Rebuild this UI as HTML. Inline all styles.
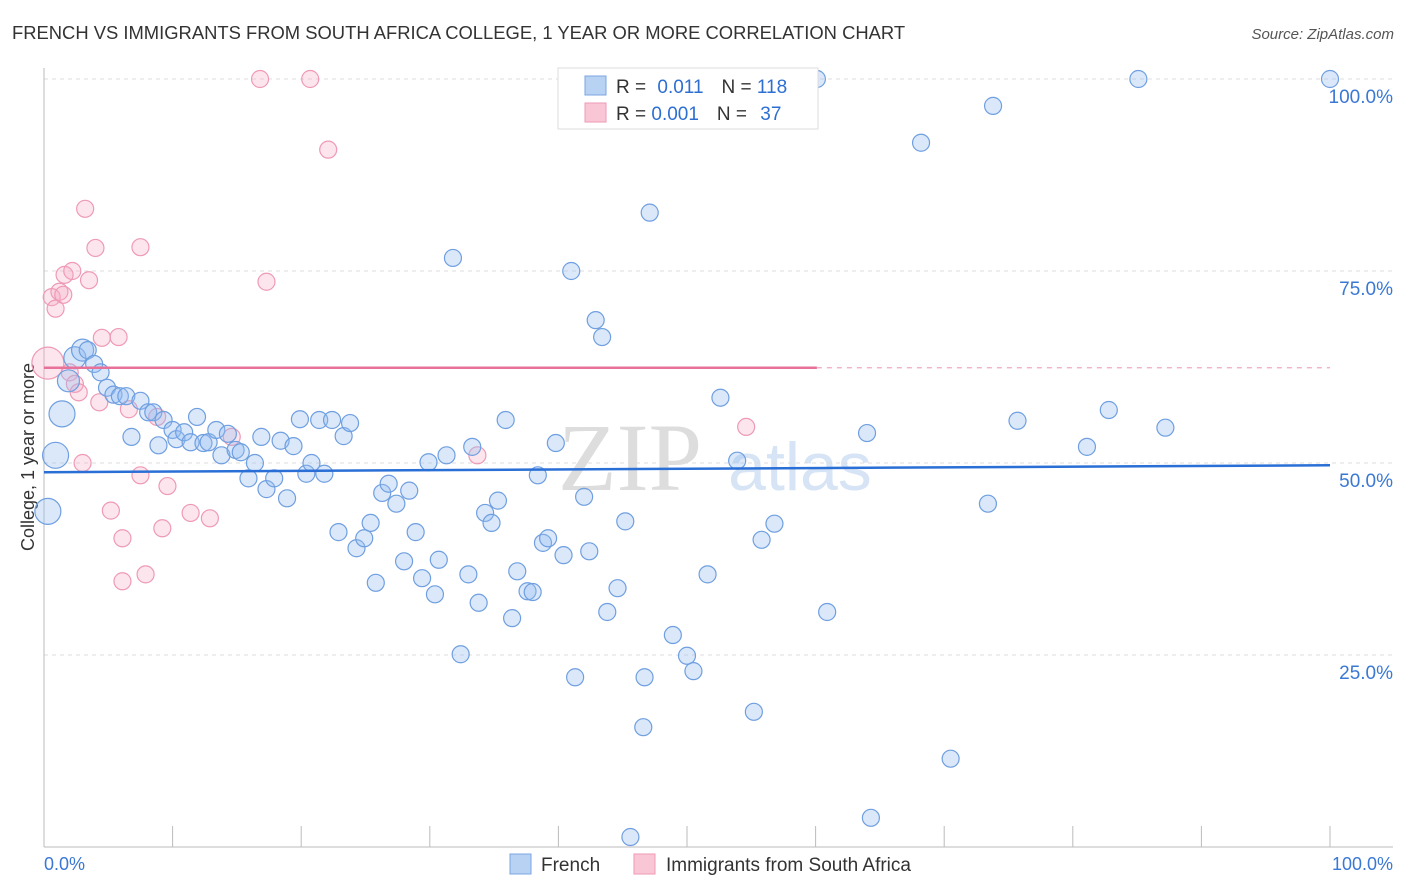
<!DOCTYPE html>
<html><head><meta charset="utf-8"><style>
body{margin:0;background:#fff;font-family:"Liberation Sans",sans-serif;}
#wrap{position:relative;width:1406px;height:892px;overflow:hidden}
</style></head><body>
<div id="wrap">
<svg id="svg" width="1406" height="892" xmlns="http://www.w3.org/2000/svg">
<text x="12" y="39" font-size="18.4" fill="#333">FRENCH VS IMMIGRANTS FROM SOUTH AFRICA COLLEGE, 1 YEAR OR MORE CORRELATION CHART</text>
<text x="1394" y="39" font-size="15" fill="#555" text-anchor="end" font-style="italic">Source: ZipAtlas.com</text>
<text x="630" y="490" font-size="96" fill="#ddd" text-anchor="middle" font-family="Liberation Serif">ZIP</text>
<text x="800" y="490" font-size="68" fill="#d6e4f5" text-anchor="middle">atlas</text>
<g id="grid"></g>
<line x1="44" y1="68" x2="44" y2="847" stroke="#bbb"/>
<line x1="44" y1="847" x2="1393" y2="847" stroke="#bbb"/>
<text transform="translate(34,457) rotate(-90)" font-size="18" fill="#333" text-anchor="middle">College, 1 year or more</text>
<text x="44" y="870" font-size="18" fill="#3a78d4">0.0%</text>
<text x="1393" y="870" font-size="18" fill="#3a78d4" text-anchor="end">100.0%</text>
<g id="pts"></g>
<g id="lines"></g>
<g>
<rect x="558" y="68" width="260" height="61" fill="#fff" stroke="#ddd"/>
<rect x="585" y="76" width="21" height="19" fill="#b8d2f3" stroke="#7aa6e0"/>
<rect x="585" y="103" width="21" height="19" fill="#f9c6d5" stroke="#ee9ab4"/>
<text x="616" y="93" font-size="19" fill="#333">R = <tspan fill="#2d6fd1" dx="6">0.011</tspan><tspan fill="#333" dx="18">N = </tspan><tspan fill="#2d6fd1">118</tspan></text>
<text x="616" y="120" font-size="19" fill="#333">R = <tspan fill="#2d6fd1">0.001</tspan><tspan fill="#333" dx="18">N = </tspan><tspan fill="#2d6fd1" dx="8">37</tspan></text>
</g>
<g>
<rect x="510" y="854" width="21" height="20" fill="#b8d2f3" stroke="#7aa6e0"/>
<text x="541" y="871" font-size="19" fill="#333">French</text>
<rect x="634" y="854" width="21" height="20" fill="#f9c6d5" stroke="#ee9ab4"/>
<text x="666" y="871" font-size="19" fill="#333">Immigrants from South Africa</text>
</g>
</svg>
</div>
<script>
const yTicks=[25,50,75,100];
const xTickVals=[0,10,20,30,40,50,60,70,80,90,100];
const frenchX=[0.3,0.9,1.4,1.9,2.4,3.0,3.4,3.9,4.4,4.9,5.4,5.9,6.4,6.8,7.5,8.1,8.5,8.9,9.3,10.0,10.3,10.9,11.4,11.9,12.4,12.8,13.4,13.8,14.3,14.9,15.3,15.9,16.4,16.9,17.3,17.9,18.4,18.9,19.4,19.9,20.4,20.8,21.4,21.8,22.4,22.9,23.3,23.8,24.3,24.9,25.4,25.8,26.3,26.8,27.4,28.0,28.4,28.9,29.4,29.9,30.4,30.7,31.3,31.8,32.4,33.0,33.3,33.8,34.3,34.8,35.3,35.9,36.4,36.8,37.6,38.0,38.4,38.8,39.2,39.8,40.4,41.0,41.3,42.0,42.4,42.9,43.4,43.8,44.6,45.2,45.6,46.6,46.7,47.1,48.9,50.0,50.5,51.6,52.6,53.9,55.2,55.8,56.8,60.1,60.9,64.0,64.3,68.2,70.5,73.4,73.8,75.7,81.1,82.8,85.1,87.2,100];
const frenchY=[43.7,51.0,56.4,60.7,63.7,64.7,64.7,62.9,61.8,59.8,58.9,58.7,58.7,53.4,58.1,56.6,56.6,52.3,55.6,54.3,53.1,54.0,52.7,56.0,52.6,52.7,54.3,51.0,53.8,51.7,51.4,48.0,50.0,53.4,46.6,48.0,52.9,45.4,52.2,55.7,48.6,50.0,55.6,48.6,55.6,41.0,53.5,55.2,38.9,40.2,42.2,34.4,46.1,47.3,44.7,37.2,46.4,41.0,35.0,50.1,32.9,37.4,51.0,76.7,25.1,35.5,52.1,31.8,43.5,42.2,45.1,55.6,29.8,35.9,33.3,33.2,48.4,39.6,40.2,52.6,38.0,75.0,22.1,45.6,38.5,68.6,66.4,30.6,33.7,42.4,1.3,15.6,22.1,82.6,27.6,24.9,22.9,35.5,58.5,50.3,17.6,40.0,42.1,100,30.6,53.9,3.8,91.7,11.5,44.7,96.5,55.5,52.1,56.9,100,54.6,100];
const frenchBig=[0,1,2,3,4,5];
const saX=[0.3,0.6,0.9,1.2,1.5,1.6,2.0,2.2,2.4,2.7,3.0,3.2,3.5,4.0,4.3,4.5,5.2,5.8,6.1,6.1,6.6,7.5,7.5,7.9,8.8,9.2,9.6,11.4,12.9,14.6,16.8,17.3,20.7,22.1,33.7,54.6];
const saY=[63.0,71.6,70.1,72.3,71.9,74.5,61.8,75.0,60.3,59.2,50.0,83.1,73.8,78.0,57.9,66.3,43.8,66.4,40.2,34.6,57.0,48.4,78.1,35.5,56.0,41.5,47.0,43.5,42.8,53.4,100,73.6,100,90.8,51.0,54.7];
const frenchTrend=[48.8,49.7];
const saTrend=[62.4,62.4];
const X=v=>44+v*12.86, Y=v=>847-v*7.68;
const NS='http://www.w3.org/2000/svg';
function mk(t,a,p){const e=document.createElementNS(NS,t);for(const k in a)e.setAttribute(k,a[k]);p.appendChild(e);return e;}
const grid=document.getElementById('grid');
yTicks.forEach(v=>{
 const l=mk('line',{x1:44,x2:1393,y1:Y(v),y2:Y(v),stroke:'#ddd','stroke-dasharray':'4,4'},grid);
 
 
 const t=mk('text',{x:1393,y:Y(v)+24,'font-size':19,fill:'#3a78d4','text-anchor':'end'},grid);
 t.textContent=v.toFixed(1)+'%';
 
 
});
xTickVals.forEach(v=>{
 const l=mk('line',{x1:X(v),x2:X(v),y1:826,y2:847,stroke:'#bbb'},grid);
 
 
});
const pts=document.getElementById('pts');
saX.forEach((x,i)=>{
 const c=mk('circle',{cx:X(x),cy:Y(saY[i]),r:i===0?16:8.5,fill:'rgba(246,170,195,0.3)',stroke:'#ef9ab5','stroke-width':1.2},pts);
 
 
});
frenchX.forEach((x,i)=>{
 const c=mk('circle',{cx:X(x),cy:Y(frenchY[i]),r:frenchBig.includes(i)?(i<3?13:11):8.5,fill:'rgba(150,190,240,0.35)',stroke:'#6f9fe0','stroke-width':1.2},pts);
 
 
});
const lines=document.getElementById('lines');
let l=mk('line',{x1:X(0),x2:X(100),y1:Y(frenchTrend[0]),y2:Y(frenchTrend[1]),stroke:'#2a6fd6','stroke-width':2.5},lines);


l=mk('line',{x1:X(0),x2:X(60.1),y1:Y(saTrend[0]),y2:Y(saTrend[0]+(saTrend[1]-saTrend[0])*0.601),stroke:'#e8719a','stroke-width':2.5},lines);


l=mk('line',{x1:X(60.1),x2:X(100),y1:Y(saTrend[0]+(saTrend[1]-saTrend[0])*0.601),y2:Y(saTrend[1]),stroke:'#f0a8bf','stroke-width':1.2,'stroke-dasharray':'5,5'},lines);


</script>
</body></html>
